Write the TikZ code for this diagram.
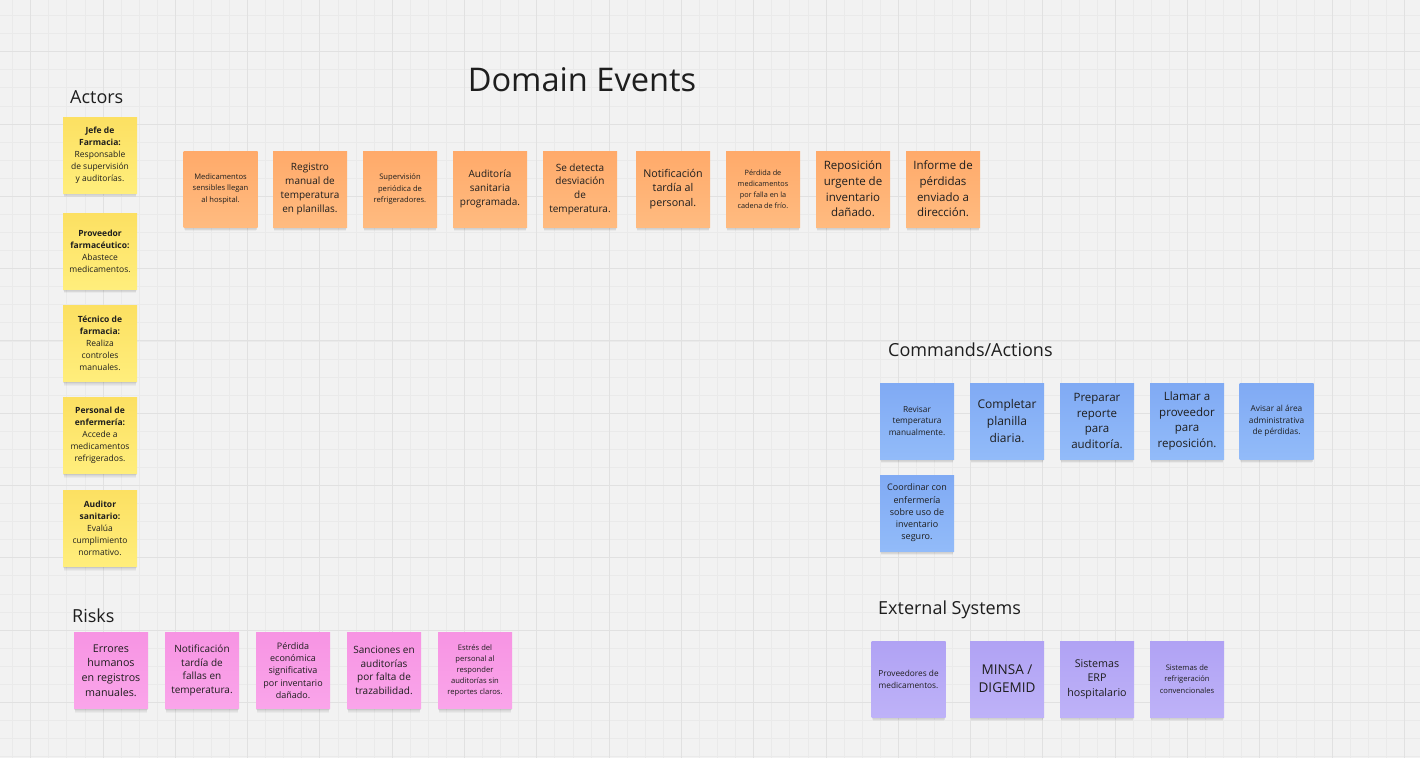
\documentclass[tikz,border=0pt]{standalone}
\usepackage{fontspec}
\setmainfont{Open Sans}

\definecolor{board}{HTML}{F2F2F2}
\definecolor{gridminor}{HTML}{EAEAEA}
\definecolor{gridmajor}{HTML}{E1E1E1}
\definecolor{ink}{HTML}{1E1E1E}
\definecolor{yelTop}{HTML}{FCE062}
\definecolor{yelBot}{HTML}{FFEE7C}
\definecolor{oraTop}{HTML}{FFAA6A}
\definecolor{oraBot}{HTML}{FFBB80}
\definecolor{bluTop}{HTML}{80AAF4}
\definecolor{bluBot}{HTML}{92BBF9}
\definecolor{pnkTop}{HTML}{F794E3}
\definecolor{pnkBot}{HTML}{FAA5EA}
\definecolor{purTop}{HTML}{B0A2F4}
\definecolor{purBot}{HTML}{BEB2F8}

\newcommand{\fsz}[2]{\fontsize{#1}{#2}\selectfont}

\pgfdeclarelayer{boardlayer}
\pgfdeclarelayer{shadelayer}
\pgfsetlayers{boardlayer,shadelayer,main}

\tikzset{
  sticky/.style={rectangle, minimum width=74pt, minimum height=76pt, inner sep=1pt,
    align=center, text=ink},
  actor/.style={sticky, top color=yelTop, bottom color=yelBot, font=\fsz{8.5}{12}},
  event/.style={sticky, top color=oraTop, bottom color=oraBot},
  command/.style={sticky, top color=bluTop, bottom color=bluBot},
  risk/.style={sticky, top color=pnkTop, bottom color=pnkBot},
  extsys/.style={sticky, top color=purTop, bottom color=purBot},
  section/.style={anchor=west, inner sep=0pt, text=ink, font=\fsz{18}{22}},
  tiny/.style={font=\fsz{7.6}{11.2}},
  small/.style={font=\fsz{8.3}{11.8}},
  mid/.style={font=\fsz{9}{12.3}},
  norm/.style={font=\fsz{10}{13.7}},
  large/.style={font=\fsz{10.7}{14.6}},
  big/.style={font=\fsz{11.5}{15.6}},
}

\begin{document}
\begin{tikzpicture}[x=1pt, y=-1pt]
  \useasboundingbox (0,0) rectangle (1420,758);
  % board and grid
  \begin{pgfonlayer}{boardlayer}
  \fill[board] (0,0) rectangle (1420,758);
  \foreach \i in {0,...,78} {
    \draw[gridminor, line width=0.8pt] ({12.6+18.075*\i},0) -- ({12.6+18.075*\i},758);
  }
  \foreach \i in {0,...,41} {
    \draw[gridminor, line width=0.8pt] (0,{15.55+18.075*\i}) -- (1420,{15.55+18.075*\i});
  }
  \foreach \i in {0,...,19} {
    \draw[gridmajor, line width=1pt] ({30.7+72.3*\i},0) -- ({30.7+72.3*\i},758);
  }
  \foreach \i in {1,...,10} {
    \draw[gridmajor, line width=1pt] (0,{-20.6+72.3*\i}) -- (1420,{-20.6+72.3*\i});
  }
  \end{pgfonlayer}

  % titles
  \node[text=ink, font=\fsz{32.6}{38}, inner sep=0pt] (tDomain) at (582,80) {Domain Events};
  \node[section] (tActors) at (70,97) {Actors};
  \node[section] (tCommands) at (888,350) {Commands/Actions};
  \node[section] (tRisks) at (72,616) {Risks};
  \node[section] (tExternal) at (878,609.5) {External Systems};

  % actors
  \node[actor] (a1) at (100,155) {\textbf{Jefe de}\\\textbf{Farmacia:}\\Responsable\\de supervisión\\y auditorías.};
  \node[actor] (a2) at (100,251) {\textbf{Proveedor}\\\textbf{farmacéutico:}\\Abastece\\medicamentos.};
  \node[actor] (a3) at (100,343.5) {\textbf{Técnico de}\\\textbf{farmacia:}\\Realiza\\controles\\manuales.};
  \node[actor] (a4) at (100,435.5) {\textbf{Personal de}\\\textbf{enfermería:}\\Accede a\\medicamentos\\refrigerados.};
  \node[actor] (a5) at (100,528.5) {\textbf{Auditor}\\\textbf{sanitario:}\\Evalúa\\cumplimiento\\normativo.};

  % domain events
  \node[event, tiny] (e1) at (220.5,189) {Medicamentos\\sensibles llegan\\al hospital.};
  \node[event, norm] (e2) at (310,189) {Registro\\manual de\\temperatura\\en planillas.};
  \node[event, tiny] (e3) at (400,189) {Supervisión\\periódica de\\refrigeradores.};
  \node[event, norm] (e4) at (490,189) {Auditoría\\sanitaria\\programada.};
  \node[event, norm] (e5) at (580,189) {Se detecta\\desviación\\de\\temperatura.};
  \node[event, large] (e6) at (673,189) {Notificación\\tardía al\\personal.};
  \node[event, font=\fsz{7.3}{11}] (e7) at (763,189) {Pérdida de\\medicamentos\\por falla en la\\cadena de frío.};
  \node[event, big] (e8) at (853,189) {Reposición\\urgente de\\inventario\\dañado.};
  \node[event, big] (e9) at (943,189) {Informe de\\pérdidas\\enviado a\\dirección.};

  % commands / actions
  \node[command, small] (c1) at (917,421) {Revisar\\temperatura\\manualmente.};
  \node[command, font=\fsz{12}{16.7}] (c2) at (1007,421) {Completar\\planilla\\diaria.};
  \node[command, big] (c3) at (1097,421) {Preparar\\reporte\\para\\auditoría.};
  \node[command, big] (c4) at (1187,421) {Llamar a\\proveedor\\para\\reposición.};
  \node[command, small] (c5) at (1276.5,421) {Avisar al área\\administrativa\\de pérdidas.};
  \node[command, mid] (c6) at (917,513) {Coordinar con\\enfermería\\sobre uso de\\inventario\\seguro.};

  % risks
  \node[risk, large] (r1) at (111,670.5) {Errores\\humanos\\en registros\\manuales.};
  \node[risk, norm] (r2) at (202,670.5) {Notificación\\tardía de\\fallas en\\temperatura.};
  \node[risk, mid] (r3) at (293,670.5) {Pérdida\\económica\\significativa\\por inventario\\dañado.};
  \node[risk, norm] (r4) at (384,670.5) {Sanciones en\\auditorías\\por falta de\\trazabilidad.};
  \node[risk, tiny] (r5) at (475,670.5) {Estrés del\\personal al\\responder\\auditorías sin\\reportes claros.};

  % external systems
  \node[extsys, small] (s1) at (908.5,679) {Proveedores de\\medicamentos.};
  \node[extsys, font=\fsz{13.5}{18.3}] (s2) at (1007,679) {MINSA /\\DIGEMID};
  \node[extsys, large] (s3) at (1097,679) {Sistemas\\ERP\\hospitalario};
  \node[extsys, tiny] (s4) at (1187,679) {Sistemas de\\refrigeración\\convencionales};

  % soft drop shadow under the bottom edge of every sticky note
  \begin{pgfonlayer}{shadelayer}
  \foreach \n in {a1,a2,a3,a4,a5,e1,e2,e3,e4,e5,e6,e7,e8,e9,c1,c2,c3,c4,c5,c6,r1,r2,r3,r4,r5,s1,s2,s3,s4} {
    \foreach \d in {1,2,3,4,5} {
      \fill[black, opacity=0.035]
        ([xshift={\d*0.3pt}, yshift=6pt]\n.south west)
        rectangle ([xshift={-\d*0.3pt}, yshift={-\d*0.8pt}]\n.south east);
    }
  }
  \end{pgfonlayer}
\end{tikzpicture}
\end{document}
